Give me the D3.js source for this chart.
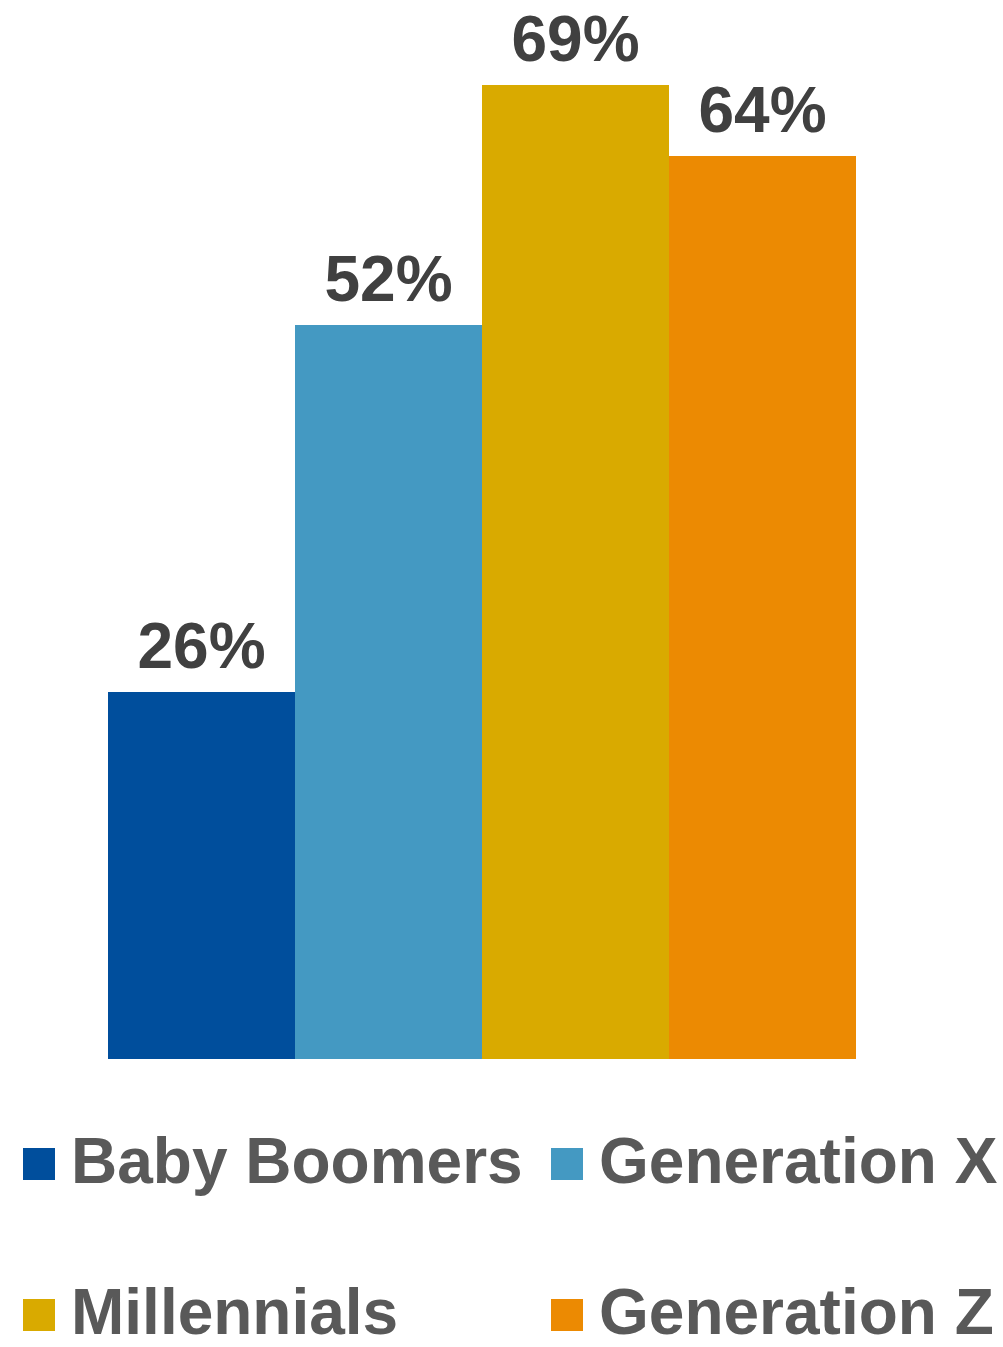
<!DOCTYPE html>
<html>
<head>
<meta charset="utf-8">
<script src="https://cdn.jsdelivr.net/npm/d3@7/dist/d3.min.js"></script>
<style>
  html, body { margin: 0; padding: 0; background: #ffffff; }
  svg { display: block; }
  text { font-family: "Liberation Sans", Arial, sans-serif; font-weight: bold; }
</style>
</head>
<body>
<svg id="chart" width="1003" height="1347"></svg>
<script>
// Share of each generation (percent)
const categories = ["Baby Boomers", "Generation X", "Millennials", "Generation Z"];
const values = [26, 52, 69, 64];
const colors = ["#004E9C", "#4499C2", "#D9AA00", "#EC8A02"];

const svg = d3.select("#chart");

const baseline = 1059;
const pxPerPct = 14.11;

const x = d3.scaleBand()
  .domain(categories)
  .range([108, 856])
  .padding(0);

const y = d3.scaleLinear()
  .domain([0, 100])
  .range([baseline, baseline - 100 * pxPerPct]);

const color = d3.scaleOrdinal().domain(categories).range(colors);

const data = categories.map((c, i) => ({ cat: c, val: values[i] }));

// Bars
svg.append("g")
  .selectAll("rect")
  .data(data)
  .join("rect")
  .attr("x", d => x(d.cat))
  .attr("y", d => y(d.val))
  .attr("width", x.bandwidth())
  .attr("height", d => y(0) - y(d.val))
  .attr("fill", d => color(d.cat))
  .attr("shape-rendering", "crispEdges");

// Value labels above bars
svg.append("g")
  .selectAll("text")
  .data(data)
  .join("text")
  .attr("x", d => x(d.cat) + x.bandwidth() / 2)
  .attr("y", d => y(d.val) - 24)
  .attr("text-anchor", "middle")
  .attr("font-size", 64)
  .attr("fill", "#404040")
  .text(d => d.val + "%");

// Legend, two columns by two rows
const legendCols = [23, 551];
const legendRows = [1148, 1299];
const legend = svg.append("g")
  .selectAll("g")
  .data(categories)
  .join("g")
  .attr("transform", (d, i) => `translate(${legendCols[i % 2]},${legendRows[Math.floor(i / 2)]})`);

legend.append("rect")
  .attr("width", 32)
  .attr("height", 32)
  .attr("fill", d => color(d))
  .attr("shape-rendering", "crispEdges");

legend.append("text")
  .attr("x", 48)
  .attr("y", 35)
  .attr("font-size", 64)
  .attr("fill", "#595959")
  .text(d => d);
</script>
</body>
</html>
